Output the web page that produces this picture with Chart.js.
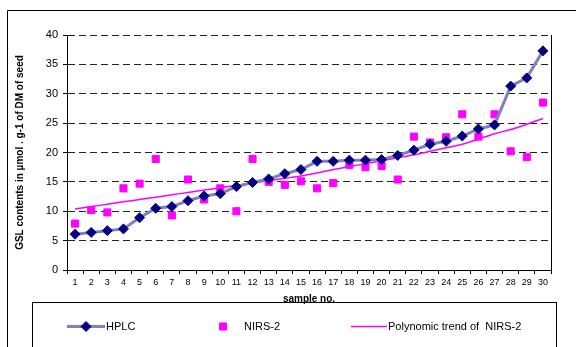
<!DOCTYPE html>
<html>
<head>
<meta charset="utf-8">
<script src="https://cdn.jsdelivr.net/npm/chart.js@4.4.1/dist/chart.umd.min.js"></script>
<style>
  html, body { margin: 0; padding: 0; background: #fff; }
  #wrap { position: relative; width: 576px; height: 347px; }
</style>
</head>
<body>
<div id="wrap"><canvas id="c" width="576" height="347"></canvas></div>
<script>
  // sample numbers (x axis)
  const samples = [1, 2, 3, 4, 5, 6, 7, 8, 9, 10, 11, 12, 13, 14, 15,
    16, 17, 18, 19, 20, 21, 22, 23, 24, 25, 26, 27, 28, 29, 30];
  // GSL by HPLC
  const hplc = [6.1, 6.4, 6.7, 7.0, 8.9, 10.5, 10.8, 11.8, 12.6, 13.0, 14.2, 14.9, 15.5, 16.4, 17.1,
    18.5, 18.5, 18.7, 18.7, 18.8, 19.5, 20.4, 21.4, 21.9, 22.8, 24.0, 24.7, 31.3, 32.7, 37.3];
  // GSL by NIRS-2
  const nirs = [7.9, 10.2, 9.8, 13.9, 14.7, 18.9, 9.3, 15.4, 12.0, 13.9, 10.0, 18.9, 15.0, 14.5, 15.1,
    13.9, 14.8, 17.9, 17.5, 17.7, 15.4, 22.7, 21.7, 22.6, 26.5, 22.7, 26.5, 20.2, 19.2, 28.5];
  // polynomic trend line of NIRS-2
  const nirsTrend = [10.4, 10.8, 11.2, 11.6, 12.0, 12.4, 12.8, 13.2, 13.6, 14.0, 14.4, 14.8, 15.2, 15.6, 16.0,
    16.5, 17.1, 17.6, 18.1, 18.6, 19.1, 19.6, 20.2, 20.8, 21.4, 22.3, 23.2, 23.9, 24.8, 25.8];
  const seriesNames = ["HPLC", "NIRS-2", "Polynomic trend of  NIRS-2"];

  Chart.defaults.font.family = "'Liberation Sans', Arial, sans-serif";
  Chart.defaults.color = "#000";

  // frame, right edge of plot and the boxed legend below
  const frameAndLegend = {
    id: "frameAndLegend",
    beforeDraw(chart) {
      const ctx = chart.ctx;
      ctx.save();
      ctx.strokeStyle = "#000";
      ctx.lineWidth = 1;
      ctx.beginPath();
      ctx.moveTo(7.5, 347);
      ctx.lineTo(7.5, 10.5);
      ctx.lineTo(576, 10.5);
      ctx.stroke();
      ctx.restore();
    },
    afterDraw(chart) {
      const ctx = chart.ctx;
      const a = chart.chartArea;
      ctx.save();
      ctx.strokeStyle = "#000";
      ctx.lineWidth = 1;
      ctx.beginPath();
      ctx.moveTo(Math.round(a.right) + 0.5, a.top);
      ctx.lineTo(Math.round(a.right) + 0.5, a.bottom);
      ctx.stroke();

      // legend box
      ctx.strokeRect(32.5, 302.5, 524, 60);
      const y = 326.5;
      const ds = chart.data.datasets;
      const slots = [
        { line: [67, 105], mark: 86, text: 106 },
        { line: null, mark: 223, text: 244 },
        { line: [351, 387], mark: null, text: 388 },
      ];
      ctx.font = "11px 'Liberation Sans', Arial, sans-serif";
      ctx.textBaseline = "middle";
      ds.forEach((d, i) => {
        const s = slots[i];
        if (s.line && d.showLine !== false) {
          ctx.strokeStyle = d.borderColor;
          ctx.lineWidth = d.borderWidth;
          ctx.beginPath();
          ctx.moveTo(s.line[0], y);
          ctx.lineTo(s.line[1], y);
          ctx.stroke();
        }
        if (s.mark !== null && d.pointRadius > 0) {
          ctx.fillStyle = d.pointBackgroundColor;
          ctx.strokeStyle = d.pointBorderColor;
          ctx.lineWidth = 1;
          Chart.helpers.drawPoint(ctx, { pointStyle: d.pointStyle, radius: d.pointRadius, rotation: 0, borderWidth: 1 }, s.mark, y);
        }
        ctx.fillStyle = "#000";
        ctx.fillText(d.label, s.text, y);
      });
      ctx.restore();
    },
  };

  new Chart(document.getElementById("c"), {
    type: "line",
    data: {
      labels: samples,
      datasets: [
        {
          label: seriesNames[0],
          data: hplc,
          borderColor: "#8080c0",
          borderWidth: 3,
          pointStyle: "rectRot",
          pointRadius: 5,
          pointBackgroundColor: "#000080",
          pointBorderColor: "#000080",
          pointBorderWidth: 1,
          tension: 0,
        },
        {
          label: seriesNames[1],
          data: nirs,
          showLine: false,
          borderColor: "#ff00ff",
          pointStyle: "rect",
          pointRadius: 5,
          pointBackgroundColor: "#ff00ff",
          pointBorderColor: "#ff00ff",
          pointBorderWidth: 1,
        },
        {
          label: seriesNames[2],
          data: nirsTrend,
          borderColor: "#ff00ff",
          borderWidth: 1.5,
          pointRadius: 0,
          tension: 0.3,
        },
      ],
    },
    options: {
      responsive: false,
      animation: false,
      layout: { padding: { left: 0, top: 35, right: 25, bottom: 37 } },
      plugins: { legend: { display: false }, tooltip: { enabled: false } },
      scales: {
        x: {
          offset: true,
          grid: { offset: true, drawOnChartArea: false, drawTicks: true, tickLength: 4, tickColor: "#000" },
          border: { display: true, color: "#000", width: 1 },
          ticks: { font: { size: 9 }, color: "#000", padding: 3, maxRotation: 0, autoSkip: false },
          title: { display: true, text: "sample no.", font: { size: 10, weight: "bold" }, color: "#000", padding: { top: 0, bottom: 5 } },
          afterFit: (s) => { s.height = 40; },
        },
        y: {
          min: 0,
          max: 40,
          ticks: { stepSize: 5, font: { size: 11 }, color: "#000", padding: 5 },
          grid: { color: "#222", lineWidth: 1, drawTicks: true, tickLength: 4, tickColor: "#000" },
          border: { display: true, color: "#000", width: 1, dash: [7, 4] },
          title: { display: true, text: "GSL contents in µmol . g-1 of DM of seed", font: { size: 10, weight: "bold" }, color: "#000", padding: { top: 14, bottom: 0 } },
          afterFit: (s) => { s.width = 67; },
        },
      },
    },
    plugins: [frameAndLegend],
  });
</script>
</body>
</html>
